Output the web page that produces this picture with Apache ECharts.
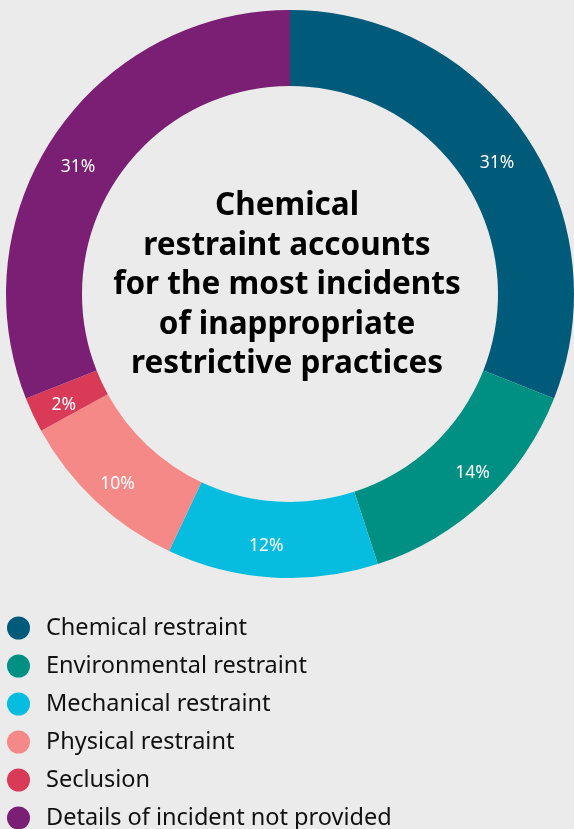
<!DOCTYPE html>
<html><head><meta charset="utf-8">
<script src="https://cdn.jsdelivr.net/npm/echarts@6/dist/echarts.min.js"></script>
<style>html,body{margin:0;padding:0;background:#ebebeb;}#c{width:574px;height:829px;}</style>
</head><body><div id="c"></div>
<script>
const categories = ["Chemical restraint","Environmental restraint","Mechanical restraint","Physical restraint","Seclusion","Details of incident not provided"];
const values = [31, 14, 12, 10, 2, 31];
const colors = ["#005a7a","#008f83","#06bddf","#f58987","#d93a57","#7a1f73"];
const centerText = "Chemical\nrestraint accounts\nfor the most incidents\nof inappropriate\nrestrictive practices";
// small label nudges (styling only)
const labelNudge = [[1,9],[12,-2],[-8,4],[-2,9],[-1,5],[-6,13]];

const chart = echarts.init(document.getElementById('c'));
chart.setOption({
  backgroundColor: '#ebebeb',
  animation: false,
  color: colors,
  legend: {
    orient: 'vertical', left: 7, top: 616, padding: 0, height: 240,
    icon: 'circle', itemWidth: 23, itemHeight: 23, itemGap: 14.0,
    textStyle: {fontFamily: 'Noto Sans', fontSize: 23.5, lineHeight: 23, color: '#111', padding: [0,0,0,11]},
    data: categories
  },
  graphic: [{
    type: 'text', left: 'center', top: 186.5,
    style: {text: centerText, fontFamily: 'Noto Sans', fontWeight: 'bold', fontSize: 31.5, lineHeight: 39.5, fill: '#000', textAlign: 'center'}
  }],
  series: [{
    type: 'pie', center: [290, 294], radius: [208, 284], startAngle: 90, clockwise: true,
    avoidLabelOverlap: false,
    label: {show: true, position: 'inside', formatter: '{c}%', color: '#fff', fontFamily: 'Noto Sans', fontSize: 17.5},
    labelLine: {show: false},
    itemStyle: {borderWidth: 0},
    emphasis: {disabled: true},
    data: categories.map((n, i) => ({name: n, value: values[i], label: {offset: labelNudge[i]}}))
  }]
});
</script></body></html>
